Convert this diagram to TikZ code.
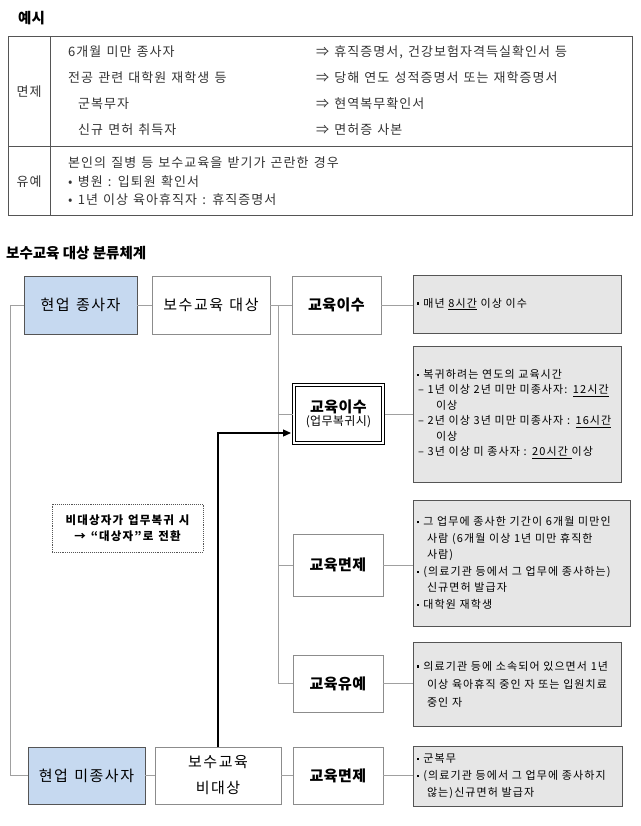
\documentclass[tikz,border=0pt]{standalone}
\usepackage{fontspec}
\setmainfont{Noto Sans CJK KR}
\newfontfamily\krsp[LetterSpace=10]{Noto Sans CJK KR}
\newfontfamily\krbs[LetterSpace=3]{Noto Sans CJK KR}
\newfontfamily\krtb[LetterSpace=8,WordSpace=1.3]{Noto Sans CJK KR}
\newfontfamily\krgr[LetterSpace=10,WordSpace=2.2]{Noto Sans CJK KR}
\newfontfamily\krnt[LetterSpace=10,WordSpace=1.3]{Noto Sans CJK KR}
\usetikzlibrary{arrows.meta}
\definecolor{bluefill}{HTML}{C6D9F0}
\definecolor{grayfill}{HTML}{E6E6E6}
\definecolor{lineg}{HTML}{A0A0A0}
\definecolor{boxg}{HTML}{8C8C8C}
\definecolor{darkg}{HTML}{555555}
\definecolor{txtg}{HTML}{333333}
\newcommand{\sqb}{\raisebox{0.22em}{\rule{2.4pt}{2.4pt}}\hspace{4pt}}
\begin{document}
\begin{tikzpicture}[x=1pt,y=-1pt,
  box/.style={draw=boxg, line width=1pt, fill=white, inner sep=0pt, outer sep=0pt, align=center, anchor=north west},
  bluebox/.style={box, fill=bluefill, draw=darkg},
  graybox/.style={draw=darkg, line width=1pt, fill=grayfill, inner xsep=4pt, inner ysep=0pt, outer sep=0pt, align=left, anchor=north west, font=\fontsize{11}{15.5}\selectfont\krgr},
  conn/.style={draw=lineg, line width=1pt},
  arr/.style={draw=black, line width=1.2pt, -{Triangle[length=8pt,width=7pt]}, shorten >=1pt},
  ttl/.style={anchor=west, inner sep=0pt, font=\fontsize{14.5}{17}\selectfont\bfseries},
  tbl/.style={anchor=west, inner sep=0pt, text=txtg, font=\fontsize{13}{16}\selectfont\krtb},
  lbl/.style={anchor=center, inner sep=0pt, text=txtg, font=\fontsize{13}{16}\selectfont\krtb},
  eduf/.style={font=\fontsize{15}{18}\selectfont\krbs\bfseries},
  grpf/.style={font=\fontsize{15}{26}\selectfont\krsp}
]
\useasboundingbox (0,0) rectangle (640,826);
% ---------- title 1 and table ----------
\node[ttl] (t1) at (18,18) {예시};
\draw[darkg, line width=1pt] (8,37) rectangle (632,216);
\draw[darkg, line width=1pt] (8,147) -- (632,147);
\draw[darkg, line width=1pt] (50,37) -- (50,216);
\node[lbl] (lm) at (29,92) {면제};
\node[lbl] (ly) at (29,182) {유예};
\node[tbl] (a1) at (68,52) {6개월 미만 종사자};
\node[tbl] (a2) at (68,78) {전공 관련 대학원 재학생 등};
\node[tbl] (a3) at (78,104) {군복무자};
\node[tbl] (a4) at (78,130) {신규 면허 취득자};
\node[tbl] (b1) at (316,52) {⇒ 휴직증명서, 건강보험자격득실확인서 등};
\node[tbl] (b2) at (316,78) {⇒ 당해 연도 성적증명서 또는 재학증명서};
\node[tbl] (b3) at (316,104) {⇒ 현역복무확인서};
\node[tbl] (b4) at (316,130) {⇒ 면허증 사본};
\node[tbl] (c1) at (68,163) {본인의 질병 등 보수교육을 받기가 곤란한 경우};
\node[tbl] (c2) at (68,182) {• 병원 : 입퇴원 확인서};
\node[tbl] (c3) at (68,200) {• 1년 이상 육아휴직자 : 휴직증명서};
% ---------- title 2 ----------
\node[ttl] (t2) at (6,253) {보수교육 대상 분류체계};
% ---------- boxes ----------
\node[bluebox, minimum width=113, minimum height=58, grpf] (hyeon) at (24,276) {현업 종사자};
\node[box, minimum width=118, minimum height=58, grpf] (bosu) at (152,276) {보수교육 대상};
\node[box, minimum width=89, minimum height=58, eduf] (ishu) at (292,276) {교육이수};
\node[draw=black, double=white, double distance=1.6pt, line width=1.3pt, fill=white, inner sep=0pt, outer sep=0pt, align=center, anchor=north west, minimum width=89, minimum height=58] (bokgwi) at (294,385) {{\fontsize{15}{18}\selectfont\krbs\bfseries 교육이수}\\[1pt]{\fontsize{12}{14}\selectfont\krbs (업무복귀시)}};
\node[box, minimum width=90, minimum height=62, eduf] (myeon) at (293,534) {교육면제};
\node[box, minimum width=90, minimum height=57, eduf] (yuye) at (293,655) {교육유예};
\node[bluebox, minimum width=117, minimum height=57, grpf] (mijong) at (28,747) {현업 미종사자};
\node[box, minimum width=126, minimum height=57, grpf] (bidae) at (155,747) {보수교육\\비대상};
\node[box, minimum width=90, minimum height=57, eduf] (myeon2) at (293,747) {교육면제};
% ---------- gray boxes ----------
\node[graybox, text width=200, minimum height=58] (g1) at (413,275) {\sqb 매년 \underline{8시간} 이상 이수};
\node[graybox, text width=200, minimum height=136] (g2) at (413,346) {\sqb 복귀하려는 연도의 교육시간\\
\hspace*{1pt}– 1년 이상 2년 미만 미종사자: \underline{12시간}\\
\hspace*{19pt}이상\\
\hspace*{1pt}– 2년 이상 3년 미만 미종사자 : \underline{16시간}\\
\hspace*{19pt}이상\\
\hspace*{1pt}– 3년 이상 미 종사자 : \underline{20시간 }이상};
\node[graybox, text width=209, minimum height=126, font=\fontsize{11}{16.5}\selectfont\krgr] (g3) at (413,500) {\sqb 그 업무에 종사한 기간이 6개월 미만인\\
\hspace*{10pt}사람 (6개월 이상 1년 미만 휴직한\\
\hspace*{10pt}사람)\\
\sqb (의료기관 등에서 그 업무에 종사하는)\\
\hspace*{10pt}신규면허 발급자\\
\sqb 대학원 재학생};
\node[graybox, text width=200, minimum height=84, font=\fontsize{11}{18}\selectfont\krgr] (g4) at (413,642) {\sqb 의료기관 등에 소속되어 있으면서 1년\\
\hspace*{10pt}이상 육아휴직 중인 자 또는 입원치료\\
\hspace*{10pt}중인 자};
\node[graybox, text width=201, minimum height=60, font=\fontsize{11}{17}\selectfont\krgr] (g5) at (413,746) {\sqb 군복무\\
\sqb (의료기관 등에서 그 업무에 종사하지\\
\hspace*{10pt}않는)신규면허 발급자};
% ---------- dotted note ----------
\node[draw=darkg, densely dotted, line width=0.9pt, inner sep=0pt, outer sep=0pt, anchor=north west, minimum width=151, minimum height=48, align=center, font=\fontsize{11.5}{16}\selectfont\krnt\bfseries] (note) at (52,504) {비대상자가 업무복귀 시\\→ “대상자”로 전환};
% ---------- connectors ----------
\coordinate (jt) at (278,305);
\draw[conn] (hyeon.east) -- (bosu.east -| bosu.west);
\draw[conn] (bosu.east) -- (ishu.west);
\draw[conn] (jt) |- (yuye.west);
\draw[conn] (jt |- bokgwi.west) -- ([xshift=-1.5pt]bokgwi.west);
\draw[conn] (jt |- myeon.west) -- (myeon.west);
\draw[conn] (ishu.east) -- (ishu.east -| g1.west);
\draw[conn] ([xshift=1.5pt]bokgwi.east) -- (bokgwi.east -| g2.west);
\draw[conn] (myeon.east) -- (myeon.east -| g3.west);
\draw[conn] (yuye.east) -- (yuye.east -| g4.west);
\draw[conn] (hyeon.west) -- ++(-14,0) |- (mijong.west);
\draw[conn] (mijong.east) -- (bidae.west);
\draw[conn] (bidae.east) -- (myeon2.west);
\draw[conn] (myeon2.east) -- (myeon2.east -| g5.west);
\draw[arr] (bidae.north) |- ([yshift=-19pt,xshift=-2pt]bokgwi.west);
\end{tikzpicture}
\end{document}
